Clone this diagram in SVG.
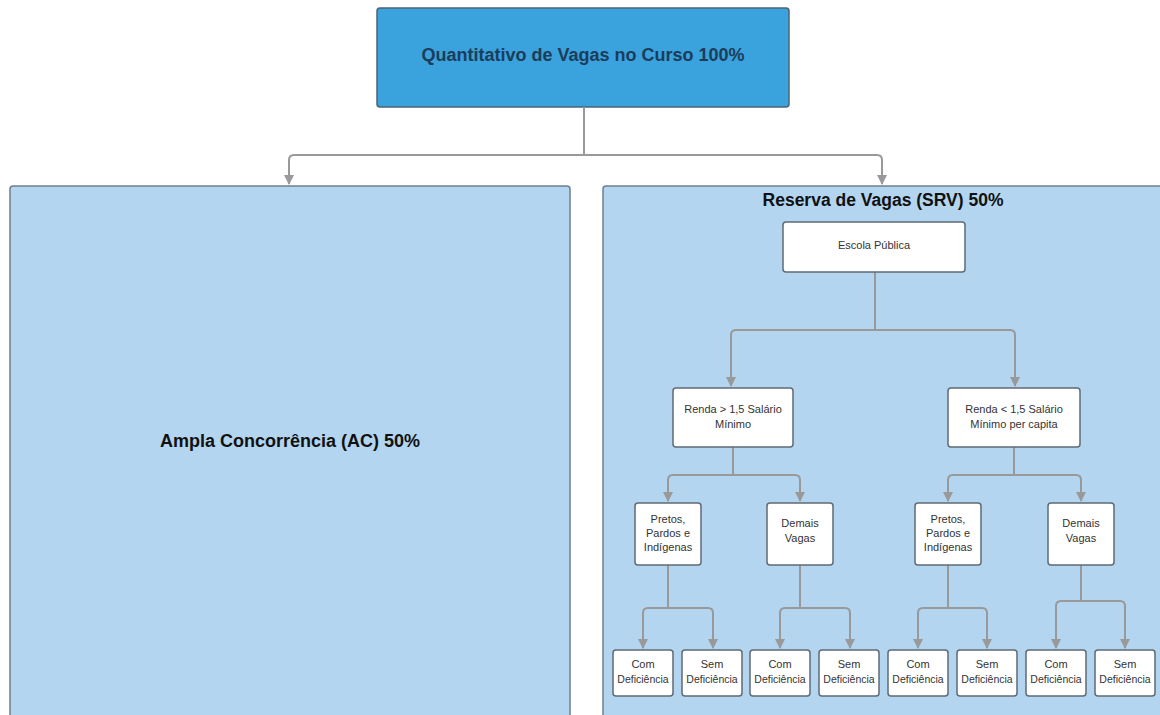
<svg xmlns="http://www.w3.org/2000/svg" width="1160" height="715" viewBox="0 0 1160 715">
<defs>
<marker id="ah" viewBox="0 0 10 10" refX="9" refY="5" markerWidth="6" markerHeight="5" orient="auto" markerUnits="strokeWidth">
<path d="M0,0 L10,5 L0,10 z" fill="#999"/>
</marker>
<style>
.big{fill:#b3d5ef;stroke:#6f7f8c;stroke-width:1.5}
.box{fill:#fff;stroke:#5f6b75;stroke-width:1.5}
.t{font-family:"Liberation Sans",Arial,sans-serif;font-size:11px;fill:#333;text-anchor:middle}
.tb{font-family:"Liberation Sans",Arial,sans-serif;font-size:18px;font-weight:bold;fill:#111;text-anchor:middle}
.c{fill:none;stroke:#999;stroke-width:2;marker-end:url(#ah)}
.cn{fill:none;stroke:#999;stroke-width:2}
</style>
</defs>
<rect width="1160" height="715" fill="#fff"/>
<g id="top">
<rect x="377" y="8" width="412" height="99" rx="3" fill="#3aa2dc" stroke="#4e6474" stroke-width="1.5"/>
<text x="583" y="61" class="tb" style="fill:#1c3d5a">Quantitativo de Vagas no Curso 100%</text>
</g>
<g id="ac">
<rect x="10" y="186" width="560" height="540" rx="3" class="big"/>
<text x="290" y="447" class="tb">Ampla Concorrência (AC) 50%</text>
</g>
<g id="srv">
<rect x="603" y="186" width="570" height="540" rx="3" class="big"/>
<text x="883" y="206" class="tb" style="font-size:17.5px">Reserva de Vagas (SRV) 50%</text>
</g>
<g id="connectors">
<path class="cn" d="M584,107 V155"/>
<path class="c" d="M584,155 H294 Q289,155 289,160 V184"/>
<path class="c" d="M584,155 H877 Q882,155 882,160 V184"/>
<path class="cn" d="M875,272 V330"/>
<path class="c" d="M875,330 H736 Q731,330 731,335 V386"/>
<path class="c" d="M875,330 H1010 Q1015,330 1015,335 V386"/>
<path class="cn" d="M733,447 V475"/>
<path class="c" d="M733,475 H673 Q668,475 668,480 V501"/>
<path class="c" d="M733,475 H795 Q800,475 800,480 V501"/>
<path class="cn" d="M1014,447 V475"/>
<path class="c" d="M1014,475 H953 Q948,475 948,480 V501"/>
<path class="c" d="M1014,475 H1076 Q1081,475 1081,480 V501"/>
<path class="cn" d="M668,565 V608"/>
<path class="c" d="M668,608 H648 Q643,608 643,613 V648"/>
<path class="c" d="M668,608 H708 Q713,608 713,613 V648"/>
<path class="cn" d="M800,565 V608"/>
<path class="c" d="M800,608 H785 Q780,608 780,613 V648"/>
<path class="c" d="M800,608 H845 Q850,608 850,613 V648"/>
<path class="cn" d="M948,565 V608"/>
<path class="c" d="M948,608 H923 Q918,608 918,613 V648"/>
<path class="c" d="M948,608 H982 Q987,608 987,613 V648"/>
<path class="cn" d="M1081,565 V601"/>
<path class="c" d="M1081,601 H1061 Q1056,601 1056,606 V648"/>
<path class="c" d="M1081,601 H1120 Q1125,601 1125,606 V648"/>
</g>
<g id="escola">
<rect x="783" y="222" width="182" height="50" rx="3" class="box"/>
<text x="874" y="249" class="t">Escola Pública</text>
</g>
<g id="renda-maior">
<rect x="673" y="388" width="120" height="59" rx="3" class="box"/>
<text x="733" y="413" class="t">Renda &gt; 1,5 Salário</text>
<text x="733" y="428" class="t">Mínimo</text>
</g>
<g id="renda-menor">
<rect x="948" y="388" width="132" height="59" rx="3" class="box"/>
<text x="1014" y="413" class="t">Renda &lt; 1,5 Salário</text>
<text x="1014" y="428" class="t">Mínimo per capita</text>
</g>
<g id="ppi1">
<rect x="635" y="503" width="66" height="62" rx="3" class="box"/>
<text x="668" y="523" class="t">Pretos,</text>
<text x="668" y="537" class="t">Pardos e</text>
<text x="668" y="551" class="t">Indígenas</text>
</g>
<g id="demais1">
<rect x="767" y="503" width="66" height="62" rx="3" class="box"/>
<text x="800" y="527" class="t">Demais</text>
<text x="800" y="542" class="t">Vagas</text>
</g>
<g id="ppi2">
<rect x="915" y="503" width="66" height="62" rx="3" class="box"/>
<text x="948" y="523" class="t">Pretos,</text>
<text x="948" y="537" class="t">Pardos e</text>
<text x="948" y="551" class="t">Indígenas</text>
</g>
<g id="demais2">
<rect x="1048" y="503" width="66" height="62" rx="3" class="box"/>
<text x="1081" y="527" class="t">Demais</text>
<text x="1081" y="542" class="t">Vagas</text>
</g>
<g id="com1"><rect x="613" y="650" width="60" height="46" rx="3" class="box"/><text x="643" y="668" class="t">Com</text><text x="643" y="683" class="t" style="font-size:10.5px">Deficiência</text></g>
<g id="sem1"><rect x="682" y="650" width="60" height="46" rx="3" class="box"/><text x="712" y="668" class="t">Sem</text><text x="712" y="683" class="t" style="font-size:10.5px">Deficiência</text></g>
<g id="com2"><rect x="750" y="650" width="60" height="46" rx="3" class="box"/><text x="780" y="668" class="t">Com</text><text x="780" y="683" class="t" style="font-size:10.5px">Deficiência</text></g>
<g id="sem2"><rect x="819" y="650" width="60" height="46" rx="3" class="box"/><text x="849" y="668" class="t">Sem</text><text x="849" y="683" class="t" style="font-size:10.5px">Deficiência</text></g>
<g id="com3"><rect x="888" y="650" width="60" height="46" rx="3" class="box"/><text x="918" y="668" class="t">Com</text><text x="918" y="683" class="t" style="font-size:10.5px">Deficiência</text></g>
<g id="sem3"><rect x="957" y="650" width="60" height="46" rx="3" class="box"/><text x="987" y="668" class="t">Sem</text><text x="987" y="683" class="t" style="font-size:10.5px">Deficiência</text></g>
<g id="com4"><rect x="1026" y="650" width="60" height="46" rx="3" class="box"/><text x="1056" y="668" class="t">Com</text><text x="1056" y="683" class="t" style="font-size:10.5px">Deficiência</text></g>
<g id="sem4"><rect x="1095" y="650" width="60" height="46" rx="3" class="box"/><text x="1125" y="668" class="t">Sem</text><text x="1125" y="683" class="t" style="font-size:10.5px">Deficiência</text></g>
</svg>
